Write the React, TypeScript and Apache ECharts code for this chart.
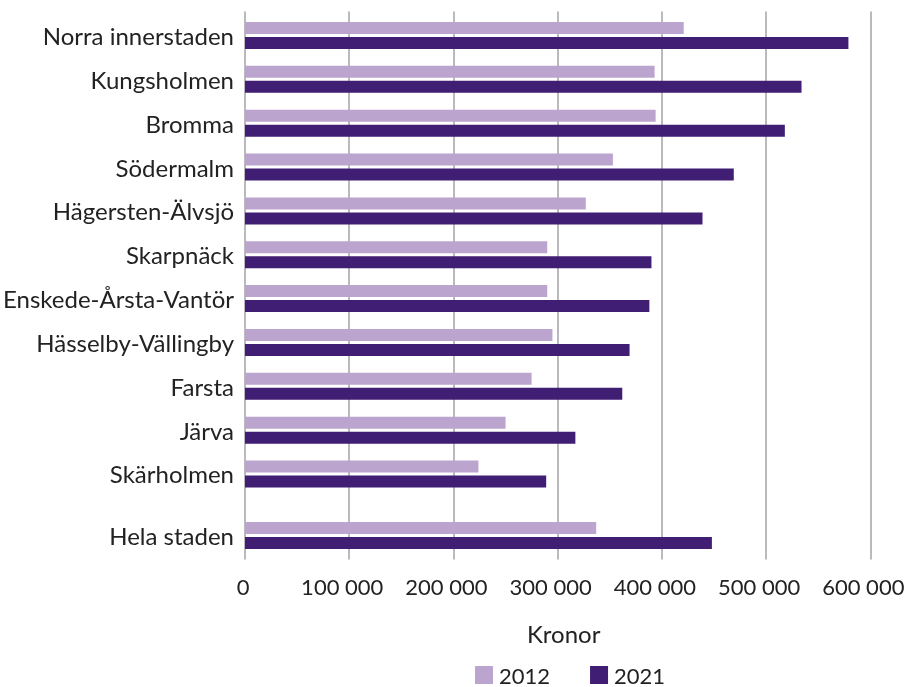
import React, { useEffect, useRef } from 'react';
import * as echarts from 'echarts';

const categories = [
  'Norra innerstaden',
  'Kungsholmen',
  'Bromma',
  'Södermalm',
  'Hägersten-Älvsjö',
  'Skarpnäck',
  'Enskede-Årsta-Vantör',
  'Hässelby-Vällingby',
  'Farsta',
  'Järva',
  'Skärholmen',
  'Hela staden',
];
const values2012 = [421000, 393000, 394000, 353000, 327000, 290000, 290000, 295000, 275000, 250000, 224000, 337000];
const values2021 = [579000, 534000, 518000, 469000, 439000, 390000, 388000, 369000, 362000, 317000, 289000, 448000];
const seriesNames = ['2012', '2021'];
const xMin = 0;
const xMax = 600000;
const xInterval = 100000;
const axisName = 'Kronor';

// layout of category slots (finer ordinal grid, to allow the extra gap before "Hela staden")
const SLOTS_PER_ROW = 10;
const LEAD_SLOTS = 5;
const EXTRA_GAP_SLOTS = 4;
const TOTAL_SLOTS = 125;

const slotIndex = categories.map(
  (_, i) => LEAD_SLOTS + i * SLOTS_PER_ROW + (i === categories.length - 1 ? EXTRA_GAP_SLOTS : 0)
);
const slotKeys = Array.from({ length: TOTAL_SLOTS }, (_, i) => 's' + i);
const slotLabels: string[] = Array(TOTAL_SLOTS).fill('');
slotIndex.forEach((s, i) => (slotLabels[s] = categories[i]));
const padValues = (vals: number[]) => {
  const a: (number | null)[] = Array(TOTAL_SLOTS).fill(null);
  slotIndex.forEach((s, i) => (a[s] = vals[i]));
  return a;
};

const fmt = (v: number) => String(v).replace(/\B(?=(\d{3})+(?!\d))/g, ' ');

const TEXT = '#222222';
const GRID = '#a3a3a8';
const FONT = 'Lato';

export default function App() {
  const ref = useRef<HTMLDivElement>(null);
  useEffect(() => {
    if (!ref.current) return;
    const chart = echarts.init(ref.current, null, { renderer: 'svg' });
    chart.setOption({
      animation: false,
      textStyle: { fontFamily: FONT, color: TEXT },
      grid: { left: 243.3, right: 51.7, top: 11.4, height: 548.1 },
      legend: {
        data: seriesNames,
        left: 470,
        top: 659,
        itemWidth: 18,
        itemHeight: 18,
        itemGap: 40,
        icon: 'rect',
        textStyle: { fontFamily: FONT, fontSize: 22, color: TEXT, padding: [0, 0, 0, 1] },
      },
      xAxis: {
        type: 'value',
        min: xMin,
        max: xMax,
        interval: xInterval,
        name: axisName,
        nameLocation: 'middle',
        nameGap: 62,
        nameTextStyle: { fontFamily: FONT, fontSize: 24, color: TEXT, padding: [0, 0, 0, 12] },
        axisLine: { show: false },
        axisTick: { show: false },
        axisLabel: {
          margin: 16,
          color: TEXT,
          fontFamily: FONT,
          fontSize: 22,
          formatter: (v: number) => (v === 0 ? '{z|0}' : '{n|' + fmt(v) + '}'),
          rich: {
            z: { fontFamily: FONT, fontSize: 22, color: TEXT, padding: [0, 4, 0, 0] },
            n: { fontFamily: FONT, fontSize: 22, color: TEXT, padding: [0, 14, 0, 0] },
          },
        },
        splitLine: { show: true, lineStyle: { color: GRID, width: 1.5 } },
      },
      yAxis: {
        type: 'category',
        inverse: true,
        data: slotKeys,
        axisLine: { show: false },
        axisTick: { show: false },
        splitLine: { show: false },
        axisLabel: {
          interval: 0,
          margin: 11,
          color: TEXT,
          fontFamily: FONT,
          fontSize: 24,
          formatter: (_: string, idx: number) => slotLabels[idx],
        },
      },
      series: [
        {
          name: seriesNames[0],
          type: 'bar',
          data: padValues(values2012),
          barWidth: 12,
          barGap: '25%',
          itemStyle: { color: '#bba4cd' },
        },
        {
          name: seriesNames[1],
          type: 'bar',
          data: padValues(values2021),
          barWidth: 12,
          barGap: '25%',
          itemStyle: { color: '#401e74' },
        },
      ],
    });
    return () => chart.dispose();
  }, []);
  return <div ref={ref} style={{ position: 'fixed', left: 0, top: 0, width: 922, height: 687 }} />;
}
